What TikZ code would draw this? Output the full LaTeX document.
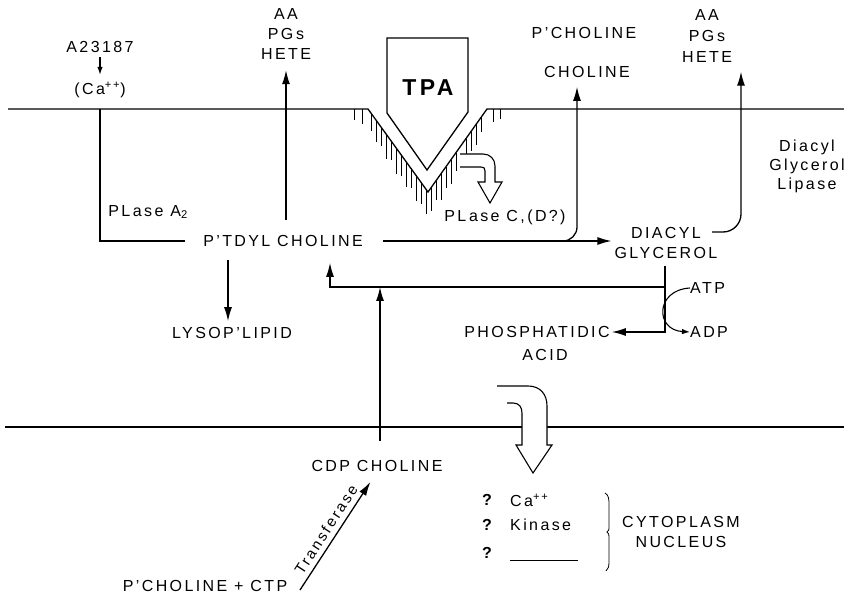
\documentclass[tikz,border=0pt]{standalone}
\usepackage{fontspec}
\setmainfont{Liberation Sans}[LetterSpace=15]
\usetikzlibrary{arrows.meta}
\begin{document}
\begin{tikzpicture}[x=1pt,y=-1pt,
  txt/.style={inner sep=0pt,align=center,font=\fontsize{16}{20}\selectfont},
  ln/.style={line width=1.3pt},
  arr/.style={line width=1.3pt,-{Latex[length=14pt,width=8pt]}},
  sarr/.style={line width=1.1pt,-{Latex[length=8pt,width=5.5pt]}},
  hatch/.style={line width=0.7pt},
  hollow/.style={line width=1.1pt}]
\useasboundingbox (0,0) rectangle (844,596);
% membranes
\coordinate (m1) at (100,109);
\draw[ln] (8,109) -- (368,109) -- (428,192) -- (487,109) -- (844,109);
\draw[ln] (5,427) -- (844,427);
% hatches
\foreach \x/\l in {354/11,362/15,371/18,376/22,381/19,386/25,391/19,396/26,401/21,406/25,411/20,416/26,421/22,426/25,431/23,436/19,441/26,446/21,451/24,456/18,466/22,471/19,476/21,481/15,493/13,500/10}{
  \pgfmathsetmacro\yt{\x<368 ? 109 : (\x<=428 ? 109+(\x-368)*83/60 : (\x<=487 ? 192-(\x-428)*83/59 : 109))}
  \draw[hatch] (\x,\yt) -- (\x,\yt+\l);
}
% hollow arrow at V
\fill[white] (460,154) -- (483,154) .. controls (490,154) and (495,159) .. (495,166) -- (495,182) -- (502,182) -- (490,203) -- (478,182) -- (485,182) -- (485,171) .. controls (485,168) and (484,167) .. (481,167) -- (460,167) -- cycle;
\draw[hollow] (460,154) -- (483,154) .. controls (490,154) and (495,159) .. (495,166) -- (495,182) -- (502,182) -- (490,203) -- (478,182) -- (485,182) -- (485,171) .. controls (485,168) and (484,167) .. (481,167) -- (460,167);
% TPA
\draw[ln,fill=white] (387,38) -- (468,38) -- (468,112) -- (427,170) -- (387,113) -- cycle;
\node[txt,font=\fontsize{23}{23}\selectfont\bfseries] (tpa) at (428,88) {TPA};
% bottom hollow arrow
\fill[white] (497,386) -- (528,386) .. controls (540,386) and (547,394) .. (547,406) -- (547,445) -- (552,445) -- (533,473) -- (516,445) -- (522,445) -- (522,413) .. controls (522,407) and (519,403) .. (513,403) -- (507,403) -- cycle;
\draw[hollow] (497,386) -- (528,386) .. controls (540,386) and (547,394) .. (547,406) -- (547,445) -- (552,445) -- (533,473) -- (516,445) -- (522,445) -- (522,413) .. controls (522,407) and (519,403) .. (513,403) -- (507,403);
% texts
\node[txt] (a23) at (100,47) {A23187};
\node[txt] (ca1) at (100,90) {(Ca\textsuperscript{++})};
\node[txt] (aa1) at (286,33.5) {AA\\PG\,s\\HETE};
\node[txt] (ptd) at (283,241) {P'TDYL CHOLINE};
\node[txt] (lyso) at (232,333) {LYSOP'LIPID};
\node[txt] (pla2) at (148,212) {PL\,ase A\textsubscript{2}};
\node[txt] (pch) at (584,33) {P'CHOLINE};
\node[txt] (cho) at (587,72) {CHOLINE};
\node[txt,font=\fontsize{16}{21}\selectfont] (aa2) at (707,36) {AA\\PG\,s\\HETE};
\node[txt,font=\fontsize{16}{19}\selectfont] (dgl) at (807,166) {Diacyl\\Glycerol\\Lipase};
\node[txt] (plc) at (505,217) {PL\,ase C,(D?)};
\node[txt] (dg) at (666,243) {DIACYL\\GLYCEROL};
\node[txt,anchor=west] (atp) at (690,288) {ATP};
\node[txt,anchor=west] (adp) at (690,332) {ADP};
\node[txt] (pha) at (537,332) {PHOSPHATIDIC};
\node[txt] (acid) at (545,355) {ACID};
\node[txt] (cdp) at (377,466) {CDP CHOLINE};
\node[txt] (pct) at (205,586) {P'CHOLINE + CTP};
\node[txt,font=\fontsize{16}{20}\selectfont\bfseries] (q1) at (487,500) {?};
\node[txt,font=\fontsize{16}{20}\selectfont\bfseries] (q2) at (487,525) {?};
\node[txt,font=\fontsize{16}{20}\selectfont\bfseries] (q3) at (487,553) {?};
\node[txt,anchor=west] (ca2) at (510,500) {Ca\textsuperscript{++}};
\node[txt,anchor=west] (kin) at (510,525) {Kinase};
\coordinate (bl1) at (510,560);
\coordinate (bl2) at (578,560);
\draw[line width=0.9pt] (bl1) -- (bl2);
\node[txt] (cyto) at (681,532) {CYTOPLASM\\NUCLEUS};
% brace
\draw[line width=0.8pt] (605,493) .. controls (609,495) and (609,500) .. (609,505) -- (609,528) .. controls (609,530) .. (607,532) .. controls (609,534) .. (609,537) -- (609,562) .. controls (609,567) and (608,569) .. (606,571);
% connectors
\draw[sarr,shorten <=4pt,shorten >=7pt] (a23.south) -- (ca1.north);
\draw[ln] (m1) |- ([xshift=-18pt]ptd.west);
\draw[arr,shorten <=15pt,shorten >=11pt] (ptd.north -| aa1.south) -- (aa1.south);
\draw[arr,shorten <=13pt,shorten >=6pt] ([xshift=-55pt]ptd.south) -- ([xshift=-55pt]ptd.south |- lyso.north);
\draw[arr,shorten <=20pt,shorten >=3pt] (ptd.east) -- (ptd.east -| dg.west);
\coordinate (cj) at (548,241);
\draw[arr,rounded corners=14pt,shorten >=9pt] (cj) -| ([xshift=-10pt]cho.south);
\coordinate (dj) at (712,232);
\draw[arr,rounded corners=18pt,shorten >=9pt] (dj) -| ([xshift=34pt]aa2.south);
\coordinate (v1) at (665,266);
\draw[arr,shorten >=2pt] (v1) |- (pha.east);
\coordinate (hj) at (665,287);
\draw[arr,shorten >=16pt] (hj) -| ([xshift=47pt]ptd.south);
\coordinate (cdpj) at (380,287);
\draw[arr,shorten <=19pt] ([xshift=3pt]cdp.north) -- (cdpj);
\draw[sarr] (atp.west) .. controls (655,290) and (655,330) .. (adp.west);
\coordinate (tr1) at (300,590);
\draw[arr,shorten >=12pt] (tr1) -- (cdp.south) node[pos=0.46,sloped,above=5pt,inner sep=0pt,font=\fontsize{15}{15}\selectfont] {Transferase};
\end{tikzpicture}
\end{document}
